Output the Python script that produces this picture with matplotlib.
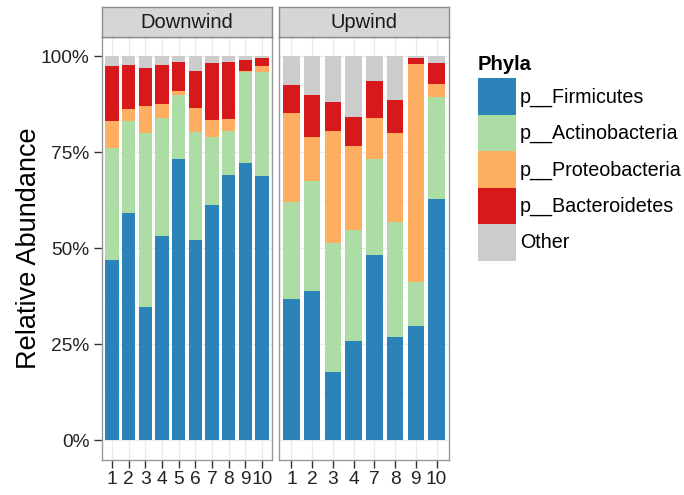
import matplotlib
matplotlib.use("Agg")
import matplotlib.pyplot as plt
from matplotlib.patches import Patch
from matplotlib.ticker import PercentFormatter

plt.rcParams["font.family"] = ["Liberation Sans", "DejaVu Sans"]

phyla = ["p__Firmicutes", "p__Actinobacteria", "p__Proteobacteria",
         "p__Bacteroidetes", "Other"]
phyla_colors = ["#2B83BA", "#ABDDA4", "#FDAE61", "#D7191C", "#CCCCCC"]

# Downwind samples (fractions, stacked bottom -> top)
down_samples = ["1", "2", "3", "4", "5", "6", "7", "8", "9", "10"]
down_firmicutes = [0.469, 0.591, 0.348, 0.533, 0.731, 0.521, 0.612, 0.691, 0.723, 0.689]
down_actino = [0.293, 0.240, 0.452, 0.307, 0.168, 0.282, 0.178, 0.115, 0.235, 0.270]
down_proteo = [0.070, 0.030, 0.071, 0.034, 0.010, 0.063, 0.043, 0.029, 0.004, 0.015]
down_bactero = [0.142, 0.116, 0.098, 0.103, 0.075, 0.096, 0.148, 0.149, 0.028, 0.020]
down_other = [0.026, 0.023, 0.031, 0.023, 0.016, 0.038, 0.019, 0.016, 0.010, 0.006]

# Upwind samples
up_samples = ["1", "2", "3", "4", "7", "8", "9", "10"]
up_firmicutes = [0.368, 0.389, 0.177, 0.260, 0.483, 0.269, 0.298, 0.627]
up_actino = [0.252, 0.286, 0.337, 0.287, 0.248, 0.298, 0.115, 0.266]
up_proteo = [0.231, 0.114, 0.292, 0.220, 0.107, 0.232, 0.566, 0.035]
up_bactero = [0.074, 0.109, 0.074, 0.074, 0.098, 0.087, 0.017, 0.054]
up_other = [0.075, 0.102, 0.120, 0.159, 0.064, 0.114, 0.004, 0.018]

W, H = 684, 495


def px_box(x0, y0, x1, y1):
    return [x0 / W, 1 - y1 / H, (x1 - x0) / W, (y1 - y0) / H]


fig = plt.figure(figsize=(W / 100, H / 100), dpi=100)
fig.patch.set_facecolor("white")

panels = [
    ("Downwind", down_samples,
     [down_firmicutes, down_actino, down_proteo, down_bactero, down_other], 102),
    ("Upwind", up_samples,
     [up_firmicutes, up_actino, up_proteo, up_bactero, up_other], 279),
]

for i, (title, samples, series, x0) in enumerate(panels):
    ax = fig.add_axes(px_box(x0, 36.8, x0 + 170, 459.7))
    pos = list(range(len(samples)))
    bottom = [0.0] * len(samples)
    for vals, col in zip(series, phyla_colors):
        ax.bar(pos, vals, width=0.8, bottom=bottom, color=col,
               edgecolor="none", zorder=2)
        bottom = [b + v for b, v in zip(bottom, vals)]
    ax.set_xlim(-0.6, len(samples) - 0.4)
    ax.set_ylim(-0.05, 1.05)
    ax.set_xticks(pos)
    ax.set_xticklabels(samples)
    ax.set_yticks([0, 0.25, 0.5, 0.75, 1.0])
    ax.set_yticks([0.125, 0.375, 0.625, 0.875], minor=True)
    ax.yaxis.set_major_formatter(PercentFormatter(xmax=1, decimals=0))
    ax.grid(True, which="major", color="#ebebeb", linewidth=1, zorder=0)
    ax.grid(True, which="minor", axis="y", color="#f5f5f5", linewidth=0.6, zorder=0)
    ax.tick_params(axis="both", which="major", length=6, width=1,
                   color="#333333", labelcolor="#222222", labelsize=13.8, pad=3)
    ax.tick_params(axis="both", which="minor", length=0)
    ax.tick_params(axis="x", pad=2)
    for sp in ax.spines.values():
        sp.set_color("#9a9a9a")
        sp.set_linewidth(1)
    if i == 0:
        ax.set_ylabel("Relative Abundance", fontsize=19.5, color="black", labelpad=-1)
    else:
        ax.tick_params(axis="y", which="both", left=False, labelleft=False)

    # facet strip
    sax = fig.add_axes(px_box(x0, 6.7, x0 + 170, 36.8))
    sax.set_facecolor("#d6d6d6")
    sax.set_xticks([])
    sax.set_yticks([])
    for sp in sax.spines.values():
        sp.set_color("#8a8a8a")
        sp.set_linewidth(1)
    sax.text(0.5, 0.48, title, ha="center", va="center", fontsize=14.5,
             color="#1a1a1a", transform=sax.transAxes)

handles = [Patch(facecolor=c, edgecolor="none", label=l)
           for c, l in zip(phyla_colors, phyla)]
leg = fig.legend(handles=handles, title="Phyla", loc="upper left",
                 bbox_to_anchor=(477.5 / W, 1 - 55 / H), frameon=False,
                 fontsize=14.2, handlelength=1.93, handleheight=2.47,
                 labelspacing=0.0, handletextpad=0.22, borderpad=0,
                 borderaxespad=0, alignment="left",
                 title_fontproperties={"weight": "bold", "size": 14.6})
leg._legend_box.sep = 3

fig.savefig("out.png", dpi=100, facecolor="white")
